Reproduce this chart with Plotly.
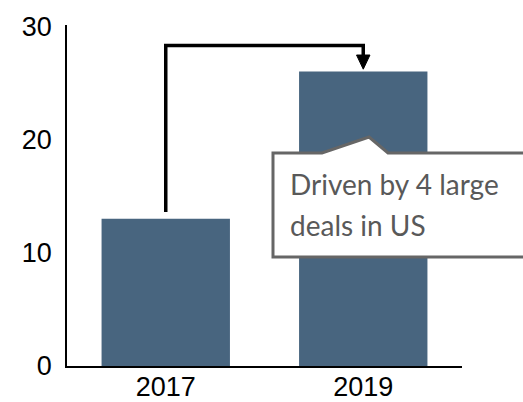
import plotly.graph_objects as go

years = ["2017", "2019"]
values = [13, 26]
y_ticks = [0, 10, 20, 30]
callout_lines = ["Driven by 4 large", "deals in US"]

bar_color = "#48657F"

fig = go.Figure()
fig.add_trace(go.Bar(x=years, y=values, marker=dict(color=bar_color, line=dict(width=0)),
                     width=0.65, hoverinfo="skip"))

# bracket arrow from 2017 bar to 2019 bar (category indices 0 and 1)
start_y = values[0] + 0.6
top_y = max(values) + 2.3
tip_y = values[1] + 0.2
head_top = values[1] + 1.45
hw = 0.034
fig.add_shape(type="path", xref="x", yref="y",
              path=f"M 0,{start_y} L 0,{top_y} L 1,{top_y} L 1,{head_top}",
              line=dict(color="black", width=3.5))
fig.add_shape(type="path", xref="x", yref="y",
              path=f"M {1-hw},{head_top} L {1+hw},{head_top} L 1,{tip_y} Z",
              line=dict(color="black", width=1), fillcolor="black")

# callout box with notch (paper coordinates)
fig.add_shape(type="path", xref="paper", yref="paper",
              path="M 0.5215,0.6246 L 0.6456,0.6246 L 0.7646,0.6716 L 0.8127,0.6246 "
                   "L 1.35,0.6246 L 1.35,0.3196 L 0.5215,0.3196 Z",
              line=dict(color="#666666", width=3), fillcolor="white", layer="above")
line_y = [0.533, 0.413]
for txt, yy in zip(callout_lines, line_y):
    fig.add_annotation(xref="paper", yref="paper", x=0.5603, y=yy,
                       xanchor="left", yanchor="middle", align="left", showarrow=False,
                       text=txt, font=dict(family="Lato", size=28, color="#595959"))

fig.update_layout(
    width=523, height=402,
    margin=dict(l=67, r=61, t=25, b=36),
    paper_bgcolor="white", plot_bgcolor="white",
    showlegend=False,
    font=dict(family="Liberation Sans, Arial", size=27, color="black"),
)
fig.update_xaxes(type="category", range=[-0.5, 1.5], showline=True, linecolor="black",
                 linewidth=2, ticks="", showgrid=False, zeroline=False, automargin=False,
                 tickfont=dict(size=27), ticklabelstandoff=-4)
fig.update_yaxes(range=[0, 30.1], tickvals=y_ticks, showline=True, linecolor="black",
                 linewidth=1.5, ticks="", showgrid=False, zeroline=False, automargin=False,
                 tickfont=dict(size=27), ticklabelstandoff=8)

fig.write_html("out.html", config={"displayModeBar": False},
               post_script="document.body.style.margin='0';")
